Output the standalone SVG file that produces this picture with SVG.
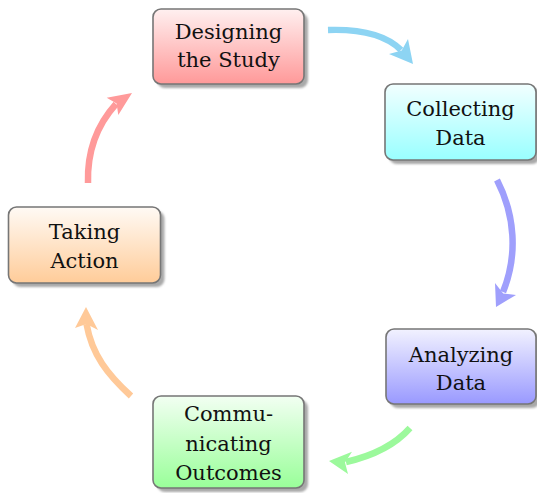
<svg xmlns="http://www.w3.org/2000/svg" width="537" height="493" viewBox="0 0 537 493">
<style>
.box{stroke:#767676;stroke-width:1.6}
.shadow{fill:#a9a9a9;filter:url(#blur)}
text{font-family:"DejaVu Serif","Liberation Serif",serif;font-size:21px;fill:#111;text-anchor:middle}
.conn path{fill:none;stroke-width:6.5;stroke-linecap:butt}
</style>
<defs>
<filter id="blur" x="-10%" y="-10%" width="120%" height="120%"><feGaussianBlur stdDeviation="0.8"/></filter>
<linearGradient id="gRed" x1="0" y1="0" x2="0" y2="1"><stop offset="0" stop-color="#fff0f0"/><stop offset="1" stop-color="#ff9999"/></linearGradient>
<linearGradient id="gCyan" x1="0" y1="0" x2="0" y2="1"><stop offset="0" stop-color="#f2ffff"/><stop offset="1" stop-color="#99ffff"/></linearGradient>
<linearGradient id="gBlue" x1="0" y1="0" x2="0" y2="1"><stop offset="0" stop-color="#f2f2ff"/><stop offset="1" stop-color="#9999ff"/></linearGradient>
<linearGradient id="gGreen" x1="0" y1="0" x2="0" y2="1"><stop offset="0" stop-color="#f2fff2"/><stop offset="1" stop-color="#99ff99"/></linearGradient>
<linearGradient id="gOrange" x1="0" y1="0" x2="0" y2="1"><stop offset="0" stop-color="#fffaf5"/><stop offset="1" stop-color="#ffcc99"/></linearGradient>
</defs>
<rect width="537" height="493" fill="#ffffff"/>

<g id="connectors" class="conn">
<path d="M328,30 C358,29 385,34 401,50" stroke="#8dd4f3"/>
<polygon points="413,64 408,39 401.7,50.4 389,54" fill="#8dd4f3"/>
<path d="M497,180 C515,215 518,255 503,292" stroke="#9f9ffc"/>
<polygon points="496,307 495,283 503.2,293.4 516,295" fill="#9f9ffc"/>
<path d="M410,428 C395,445 372,456 346,462" stroke="#9cf99c"/>
<polygon points="329,461 352,451.7 345,462.4 348,474" fill="#9cf99c"/>
<path d="M131,396 C108,375 92,355 86.5,324" stroke="#ffc998"/>
<polygon points="86,307 75,328 86.4,324 98,330" fill="#ffc998"/>
<path d="M88,183 C87,150 97,125 116,104" stroke="#ff9a9a"/>
<polygon points="132,93 106.7,97.7 116.6,103.6 118.3,115" fill="#ff9a9a"/>
</g>

<g id="node-designing">
<rect class="shadow" x="157" y="13" width="151" height="75" rx="8"/>
<rect class="box" x="153" y="9" width="151" height="75" rx="8" fill="url(#gRed)"/>
<text x="228.5" y="38.5">Designing</text>
<text x="228.5" y="66.5">the Study</text>
</g>

<g id="node-collecting">
<rect class="shadow" x="389" y="88" width="151" height="76" rx="8"/>
<rect class="box" x="385" y="84" width="151" height="76" rx="8" fill="url(#gCyan)"/>
<text x="460.5" y="116">Collecting</text>
<text x="460.5" y="145">Data</text>
</g>

<g id="node-analyzing">
<rect class="shadow" x="390" y="333" width="150" height="75" rx="8"/>
<rect class="box" x="386" y="329" width="150" height="75" rx="8" fill="url(#gBlue)"/>
<text x="461" y="361.5">Analyzing</text>
<text x="461" y="390">Data</text>
</g>

<g id="node-communicating">
<rect class="shadow" x="157" y="400" width="151" height="92" rx="8"/>
<rect class="box" x="153" y="396" width="151" height="92" rx="8" fill="url(#gGreen)"/>
<text x="228.5" y="420.5">Commu-</text>
<text x="228.5" y="450.5">nicating</text>
<text x="228.5" y="479.5">Outcomes</text>
</g>

<g id="node-taking">
<rect class="shadow" x="12.5" y="211" width="152" height="76" rx="8"/>
<rect class="box" x="8.5" y="207" width="152" height="76" rx="8" fill="url(#gOrange)"/>
<text x="84.5" y="239">Taking</text>
<text x="84.5" y="268">Action</text>
</g>
</svg>
